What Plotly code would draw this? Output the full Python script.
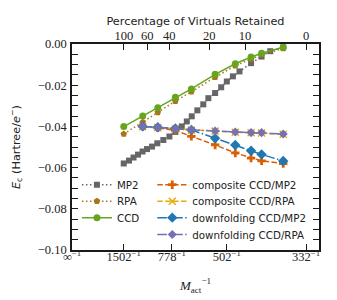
import plotly.graph_objects as go

# ---- data ----
M_ccd = [1502, 1099, 906, 752, 651, 543, 476, 434, 410, 368]
E_ccd = [-0.0401, -0.0349, -0.0310, -0.0259, -0.0218, -0.0147, -0.0096, -0.0063, -0.0045, -0.0016]
E_rpa = [-0.0437, -0.0380, -0.0332, -0.0277, -0.0232, -0.0161, -0.0105, -0.0073, -0.0051, -0.0022]

M_mp2 = [1502, 1363, 1263, 1177, 1102, 1036, 971, 911, 851, 798, 752, 708, 677, 649, 620,
         592, 570, 543, 521, 502, 483, 464, 434, 410, 392, 368]
E_mp2 = [-0.0580, -0.0566, -0.0551, -0.0537, -0.0522, -0.0510, -0.0498, -0.0482, -0.0466,
         -0.0449, -0.0427, -0.0400, -0.0376, -0.0351, -0.0322, -0.0293, -0.0263, -0.0238,
         -0.0210, -0.0182, -0.0157, -0.0133, -0.0093, -0.0061, -0.0035, -0.0016]

M_sub = [1099, 906, 752, 651, 543, 476, 434, 410, 368]
E_comp_mp2 = [-0.0400, -0.0407, -0.0420, -0.0448, -0.0490, -0.0529, -0.0554, -0.0567, -0.0580]
E_comp_rpa = [-0.0401, -0.0406, -0.0413, -0.0418, -0.0423, -0.0428, -0.0431, -0.0432, -0.0438]
E_down_mp2 = [-0.0400, -0.0404, -0.0410, -0.0417, -0.0458, -0.0490, -0.0518, -0.0536, -0.0568]
E_down_rpa = [-0.0400, -0.0404, -0.0412, -0.0417, -0.0422, -0.0427, -0.0430, -0.0430, -0.0437]

bottom_M = [None, 1502, 778, 502, 332]
bottom_labels = ["\u221e", "1502", "778", "502", "332"]
pct_ticks = [100, 60, 40, 20, 10, 0]
M_occ_base = 332
M_virt_total = 1170

y_ticks = [-0.10, -0.08, -0.06, -0.04, -0.02, 0.00]

# ---- styling ----
SANS = "DejaVu Sans"
SERIF = "Liberation Serif"
AX = "#1a1a1a"
TXT = "#222222"
XMAX = 0.003178

DOT = "1.5px,2.5px"
DASH = "5.5px,2.4px"
DASHDOT = "9.6px,2.4px,1.5px,2.4px"

# legend slot positions (paper coords): column x, row y
COL_X = [0.02, 0.325]
ROW_Y = [0.317, 0.237, 0.157, 0.075]

inv = lambda arr: [1.0 / m for m in arr]

fig = go.Figure()
legend_layout = {}
slot = [0]

def add(name, M, E, color, symbol, size, dash, col, row, lw=1.5, mline=None):
    marker = dict(symbol=symbol, size=size, color=color)
    marker["line"] = dict(width=mline, color=color) if mline else dict(width=0)
    slot[0] += 1
    key = "legend" if slot[0] == 1 else f"legend{slot[0]}"
    fig.add_trace(go.Scatter(
        x=inv(M), y=E, name=name, mode="lines+markers",
        line=dict(color=color, width=lw, dash=dash),
        marker=marker, legend=key))
    legend_layout[key] = dict(
        x=COL_X[col], y=ROW_Y[row], xanchor="left", yanchor="middle",
        bgcolor="rgba(0,0,0,0)", borderwidth=0,
        font=dict(family=SANS, size=10.3, color=TXT), itemwidth=30)

add("MP2", M_mp2, E_mp2, "#666666", "square", 6, DOT, 0, 0)
add("RPA", M_ccd, E_rpa, "#a6761d", "pentagon", 7, DOT, 0, 1)
add("CCD", M_ccd, E_ccd, "#66a61e", "circle", 7, "solid", 0, 2)
add("composite CCD/MP2", M_sub, E_comp_mp2, "#d95f02", "cross", 7, DASH, 1, 0)
add("composite CCD/RPA", M_sub, E_comp_rpa, "#e6ab02", "x-thin", 7, DASH, 1, 1, mline=1.5)
add("downfolding CCD/MP2", M_sub, E_down_mp2, "#1f78b4", "diamond", 8, DASHDOT, 1, 2)
add("downfolding CCD/RPA", M_sub, E_down_rpa, "#7570b3", "diamond", 7, DASHDOT, 1, 3)

# invisible trace to anchor the top axis
fig.add_trace(go.Scatter(x=[0, XMAX], y=[None, None], xaxis="x2", yaxis="y",
                         showlegend=False, hoverinfo="skip"))

bottom_vals = [0.0 if m is None else 1.0 / m for m in bottom_M]
bottom_text = [f"{t}<sup>\u22121</sup>" for t in bottom_labels]
top_vals = [1.0 / (M_occ_base + p / 100 * M_virt_total) for p in pct_ticks]
top_text = [str(p) for p in pct_ticks]

# the page body has an 8px default margin, so the figure is offset by 8px
fig.update_layout(
    width=329, height=292,
    margin=dict(l=64, r=18, t=36, b=50),
    paper_bgcolor="white", plot_bgcolor="white",
    font=dict(family=SANS, size=11, color=TXT),
    xaxis=dict(
        range=[0, XMAX], tickvals=bottom_vals, ticktext=bottom_text,
        ticks="inside", ticklen=6, tickwidth=1.2, tickcolor=AX,
        showline=True, linecolor=AX, linewidth=1.5, mirror=True,
        showgrid=False, zeroline=False, automargin=False,
        ticklabelstandoff=-6,
        tickfont=dict(family=SERIF, size=12.5, color=TXT),
        title=dict(text="<i>M</i><sub>act</sub><sup>\u22121</sup>",
                   font=dict(family=SERIF, size=13, color=TXT), standoff=18),
    ),
    xaxis2=dict(
        overlaying="x", side="top", range=[0, XMAX],
        tickvals=top_vals, ticktext=top_text,
        ticks="inside", ticklen=6, tickwidth=1.2, tickcolor=AX,
        showline=False, showgrid=False, zeroline=False, automargin=False,
        ticklabelstandoff=1,
        tickfont=dict(family=SERIF, size=12.5, color=TXT),
        title=dict(text="Percentage of Virtuals Retained",
                   font=dict(family=SANS, size=11.3, color=TXT), standoff=0),
    ),
    yaxis=dict(
        range=[-0.1, 0.0], tickvals=y_ticks,
        ticktext=[("\u2212%.2f" % abs(v)) if v < 0 else "0.00" for v in y_ticks],
        ticks="inside", ticklen=6, tickwidth=1.2, tickcolor=AX,
        minor=dict(dtick=0.005, ticks="inside", ticklen=3.5, tickwidth=1, tickcolor=AX),
        showline=True, linecolor=AX, linewidth=1.5, mirror="allticks",
        showgrid=False, zeroline=False, automargin=False,
        ticklabelstandoff=1,
        tickfont=dict(family=SERIF, size=12.5, color=TXT),
        title=dict(text="<i>E</i><sub>c</sub> (Hartree/<i>e</i><sup>\u2212</sup>)",
                   font=dict(family=SANS, size=11.3, color=TXT), standoff=15),
    ),
    **legend_layout,
)

fig.write_html("out.html")
